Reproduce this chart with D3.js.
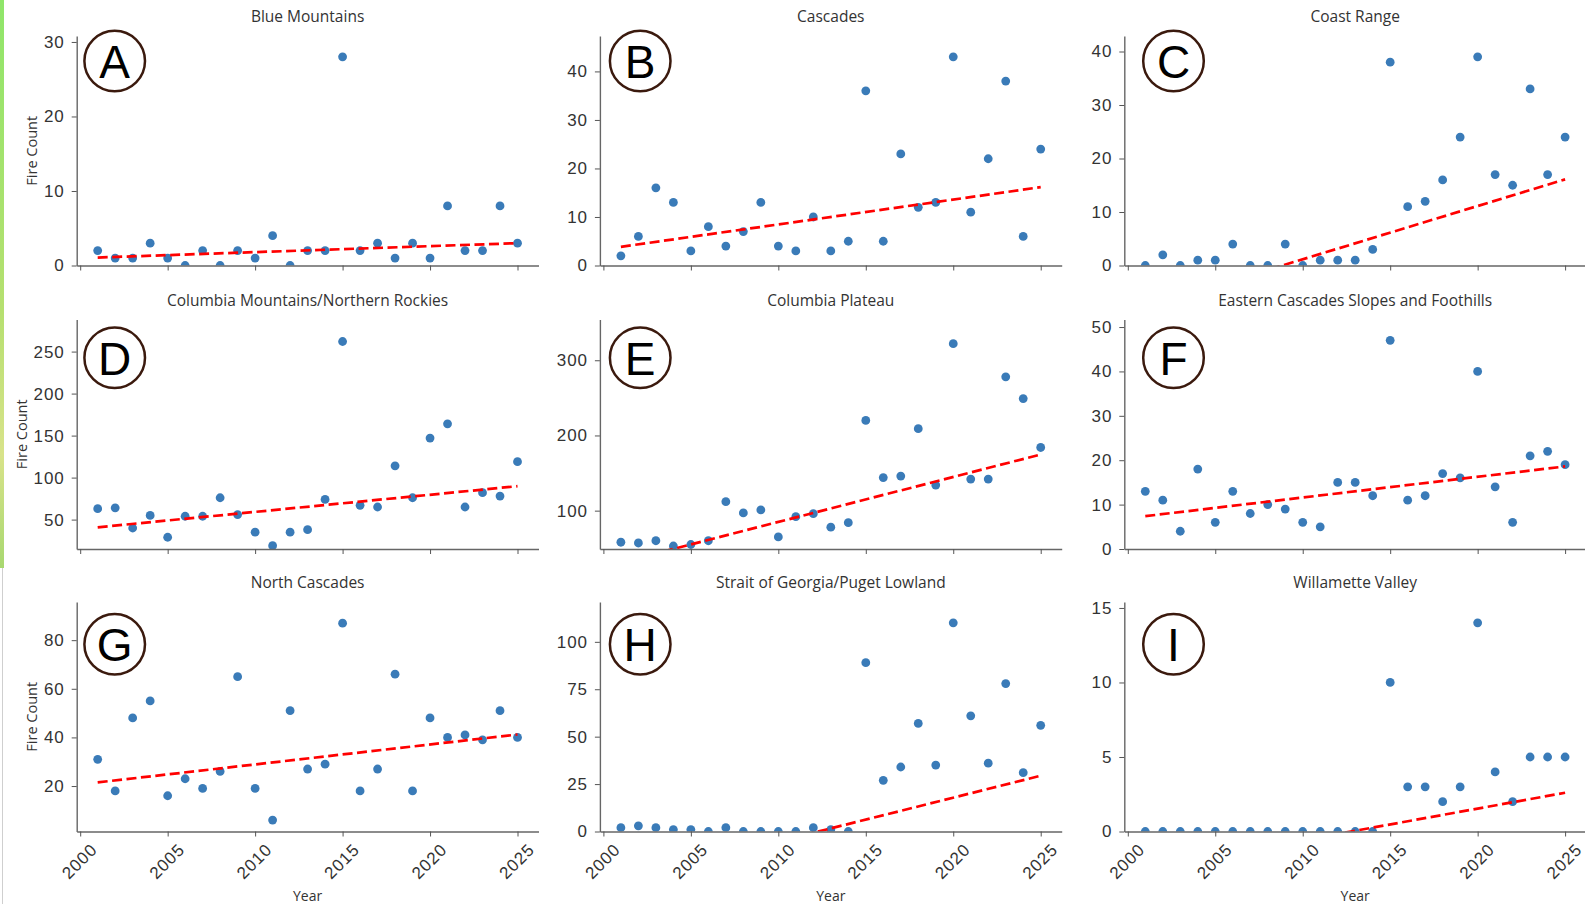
<!DOCTYPE html>
<html>
<head>
<meta charset="utf-8">
<script src="https://cdn.jsdelivr.net/npm/d3@7"></script>
<style>
  body { margin: 0; background: #fff; }
  svg { display: block; font-family: "Open Sans", sans-serif; }
</style>
</head>
<body>
<div id="chart"></div>
<script>
// years on the x axis
var years = [2001, 2002, 2003, 2004, 2005, 2006, 2007, 2008, 2009, 2010, 2011, 2012, 2013,
             2014, 2015, 2016, 2017, 2018, 2019, 2020, 2021, 2022, 2023, 2024, 2025];

var regions = ["Blue Mountains", "Cascades", "Coast Range",
               "Columbia Mountains/Northern Rockies", "Columbia Plateau", "Eastern Cascades Slopes and Foothills",
               "North Cascades", "Strait of Georgia/Puget Lowland", "Willamette Valley"];
var panelLetters = ["A", "B", "C", "D", "E", "F", "G", "H", "I"];

// fire counts per year
var blueMountains = [2, 1, 1, 3, 1, 0, 2, 0, 2, 1, 4, 0, 2, 2, 28, 2, 3, 1, 3, 1, 8, 2, 2, 8, 3];
var cascades      = [2, 6, 16, 13, 3, 8, 4, 7, 13, 4, 3, 10, 3, 5, 36, 5, 23, 12, 13, 43, 11, 22, 38, 6, 24];
var coastRange    = [0, 2, 0, 1, 1, 4, 0, 0, 4, 0, 1, 1, 1, 3, 38, 11, 12, 16, 24, 39, 17, 15, 33, 17, 24];
var columbiaMtns  = [63, 64, 40, 55, 29, 54, 54, 76, 56, 35, 19, 35, 38, 74, 262, 67, 65, 114, 76, 147, 164, 65, 82, 78, 119];
var columbiaPlat  = [58, 57, 60, 53, 55, 60, 112, 97, 101, 65, 92, 96, 78, 84, 220, 144, 146, 209, 134, 322, 142, 142, 278, 249, 184];
var easternCasc   = [13, 11, 4, 18, 6, 13, 8, 10, 9, 6, 5, 15, 15, 12, 47, 11, 12, 17, 16, 40, 14, 6, 21, 22, 19];
var northCasc     = [31, 18, 48, 55, 16, 23, 19, 26, 65, 19, 6, 51, 27, 29, 87, 18, 27, 66, 18, 48, 40, 41, 39, 51, 40];
var pugetLowland  = [2, 3, 2, 1, 1, 0, 2, 0, 0, 0, 0, 2, 1, 0, 89, 27, 34, 57, 35, 110, 61, 36, 78, 31, 56];
var willamette    = [0, 0, 0, 0, 0, 0, 0, 0, 0, 0, 0, 0, 0, 0, 10, 3, 3, 2, 3, 14, 4, 2, 5, 5, 5];

var fireCounts = [blueMountains, cascades, coastRange, columbiaMtns, columbiaPlat,
                  easternCasc, northCasc, pugetLowland, willamette];

// trend line value at 2001 and at 2025
var trendStart = [1.07, 3.85, -7.8, 40.8, 31.2, 7.4, 21.5, -26.1, -2.5];
var trendEnd   = [3.0, 16.15, 16.1, 89.8, 174.7, 18.6, 41.2, 29.4, 2.6];

// y axis bottoms and tick labels
var yMins = [0, 0, 0, 15, 49, 0, 1.3, 0, 0];
var yTicks = [[0, 10, 20, 30], [0, 10, 20, 30, 40], [0, 10, 20, 30, 40],
              [50, 100, 150, 200, 250], [100, 200, 300], [0, 10, 20, 30, 40, 50],
              [20, 40, 60, 80], [0, 25, 50, 75, 100], [0, 5, 10, 15]];
var xTicks = [2000, 2005, 2010, 2015, 2020, 2025];

var width = 1585, height = 904;
var colX = [76.7, 599.9, 1124.3];
var rowY = [36, 319.5, 602];
var pw = 461.8, ph = 229.5;
var letterX = [114.7, 640.2, 1173.5];
var letterY = [61, 357.7, 644.3];

var svg = d3.select("#chart")
    .append("svg")
        .attr("width", width)
        .attr("height", height);

// green strip at the left edge of the screenshot
var grad = svg.append("defs").append("linearGradient")
    .attr("id", "edge").attr("x1", 0).attr("y1", 0).attr("x2", 0).attr("y2", 1);
grad.append("stop").attr("offset", "0%").attr("stop-color", "#8fe66a");
grad.append("stop").attr("offset", "55%").attr("stop-color", "#b6e070");
grad.append("stop").attr("offset", "80%").attr("stop-color", "#d8e38a");
grad.append("stop").attr("offset", "100%").attr("stop-color", "#a8d870");
svg.append("rect").attr("x", 0).attr("y", 0).attr("width", 4).attr("height", 568).attr("fill", "url(#edge)");
svg.append("line").attr("x1", 2.5).attr("x2", 2.5).attr("y1", 568).attr("y2", height)
    .attr("stroke", "#cfcfcf").attr("stroke-width", 1);

var x = d3.scaleLinear().domain([1999.8, 2026.2]).range([0, pw]);

regions.forEach(function(name, i) {
    var col = i % 3, row = Math.floor(i / 3);
    var counts = fireCounts[i];

    var y = d3.scaleLinear()
        .domain([yMins[i], d3.max(counts) * 1.1])
        .range([ph, 0]);

    var g = svg.append("g")
        .attr("transform", "translate(" + colX[col] + "," + rowY[row] + ")");

    g.append("clipPath").attr("id", "clip" + i)
        .append("rect").attr("width", pw).attr("height", ph);

    var plot = g.append("g").attr("clip-path", "url(#clip" + i + ")");

    // points
    plot.selectAll("circle")
        .data(counts)
        .enter()
        .append("circle")
        .attr("cx", function(d, j) { return x(years[j]); })
        .attr("cy", function(d) { return y(d); })
        .attr("r", 4.4)
        .attr("fill", "#3a7bb8");

    // dashed trend
    var trend = [[years[0], trendStart[i]], [years[years.length - 1], trendEnd[i]]];
    plot.append("path")
        .datum(trend)
        .attr("d", d3.line().x(function(d) { return x(d[0]); }).y(function(d) { return y(d[1]); }))
        .attr("fill", "none")
        .attr("stroke", "#ff0000")
        .attr("stroke-width", 2.7)
        .attr("stroke-dasharray", "10,4.5");

    // axes
    var yAxis = g.append("g")
        .call(d3.axisLeft(y).tickValues(yTicks[i]).tickSize(5).tickPadding(7).tickSizeOuter(0));
    var xAxis = g.append("g")
        .attr("transform", "translate(0," + ph + ")")
        .call(d3.axisBottom(x).tickValues(xTicks).tickSize(5).tickSizeOuter(0)
            .tickFormat(row == 2 ? d3.format("d") : function() { return ""; }));

    [yAxis, xAxis].forEach(function(a) {
        a.select(".domain").attr("stroke", "#666").attr("stroke-width", 1.4);
        a.selectAll(".tick line").attr("stroke", "#555").attr("stroke-width", 1);
        a.selectAll(".tick text").attr("fill", "#333")
            .style("font-size", "17px").style("letter-spacing", "0.9px");
    });

    if (row == 2) {
        xAxis.selectAll(".tick text")
            .attr("x", 0).attr("y", 0).attr("dy", null)
            .attr("text-anchor", "middle")
            .attr("dominant-baseline", "central")
            .attr("transform", "translate(-1,30) rotate(-45)");
        g.append("text")
            .attr("x", pw / 2).attr("y", 293)
            .attr("text-anchor", "middle")
            .attr("dominant-baseline", "central")
            .attr("fill", "#333")
            .style("font-size", "14px")
            .text("Year");
    }

    if (col == 0) {
        var bb = yAxis.node().getBBox();
        g.append("text")
            .attr("transform", "translate(" + (bb.x - 12) + "," + (ph / 2) + ") rotate(-90)")
            .attr("text-anchor", "middle")
            .attr("dominant-baseline", "central")
            .attr("fill", "#333")
            .style("font-size", "14.5px")
            .text("Fire Count");
    }

    // panel title
    g.append("text")
        .attr("x", pw / 2).attr("y", -20)
        .attr("text-anchor", "middle")
        .attr("dominant-baseline", "central")
        .attr("fill", "#333")
        .style("font-size", "15.5px")
        .text(name);

    // letter badge
    svg.append("circle")
        .attr("cx", letterX[col]).attr("cy", letterY[row]).attr("r", 30.3)
        .attr("fill", "#fff")
        .attr("stroke", "#3b1a0e")
        .attr("stroke-width", 2.5);
    svg.append("text")
        .attr("x", letterX[col]).attr("y", letterY[row] + 17)
        .attr("text-anchor", "middle")
        .attr("fill", "#000")
        .style("font-family", "'Liberation Sans', Arial, sans-serif")
        .style("font-size", "46px")
        .text(panelLetters[i]);
});
</script>
</body>
</html>
